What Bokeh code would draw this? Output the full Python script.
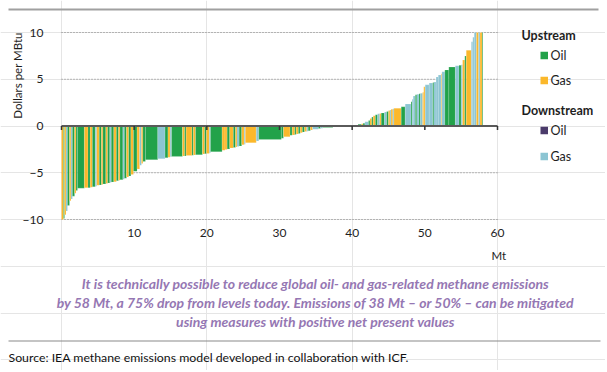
import math
from bokeh.plotting import figure
from bokeh.models import (ColumnDataSource, FixedTicker, Label, BoxAnnotation,
                          Range1d, LinearAxis)
from bokeh.embed import file_html
from bokeh.resources import INLINE

# ---- data: abatement measures (width = Mt abated, cost = $/MBtu, segment) ----
mt_widths = [
    0.28, 0.14, 0.20, 0.20, 0.28, 0.20, 0.20, 0.30, 0.20, 0.20,
    0.95, 0.50, 0.30, 0.30, 0.40, 0.20, 0.35, 0.30, 0.20, 0.40,
    0.25, 0.30, 0.20, 0.35, 0.35, 0.30, 0.20, 0.40, 0.20, 0.30,
    0.30, 0.30, 0.35, 0.50, 0.35, 0.25, 0.20, 0.35, 1.70, 1.00,
    0.40, 0.30, 0.20, 1.50, 0.30, 0.20, 0.80, 0.20, 0.30, 0.95,
    0.30, 0.25, 0.40, 0.15, 1.60, 0.40, 0.30, 0.35, 0.50, 0.30,
    0.20, 0.30, 0.35, 0.35, 0.15, 1.50, 0.35, 3.10, 0.30, 0.90,
    0.30, 0.35, 0.20, 0.30, 0.25, 0.30, 0.30, 0.30, 0.20, 0.30,
    0.30, 0.80, 0.30, 0.30, 1.40, 1.60, 1.85,
    0.50, 0.20, 0.25, 0.50, 0.20, 0.25, 0.20, 0.30, 0.30, 0.30,
    0.20, 0.45, 0.30, 0.25, 0.20, 0.15, 0.25, 0.15, 1.00, 0.55,
    0.80, 0.15, 0.15, 0.30, 0.20, 0.30, 0.20, 0.30, 0.15, 0.20,
    0.55, 0.50, 0.15, 0.30, 0.30, 0.40, 0.10, 0.40, 0.55, 0.90,
    0.50, 0.30, 0.20, 0.30, 0.20, 0.70, 0.20, 0.20, 0.30, 0.30,
    0.20, 0.30, 0.10,
]
costs = [
    -10.0, -9.9, -9.5, -9.1, -8.5, -8.0, -7.8, -7.5, -7.2, -6.9,
    -6.65, -6.6, -6.6, -6.55, -6.5, -6.45, -6.35, -6.3, -6.25, -6.2,
    -6.15, -6.1, -6.05, -6.0, -5.95, -5.85, -5.8, -5.75, -5.7, -5.6,
    -5.45, -5.35, -5.2, -4.85, -4.6, -4.2, -4.0, -3.8, -3.6, -3.5,
    -3.4, -3.35, -3.3, -3.25, -3.22, -3.2, -3.15, -3.12, -3.1, -3.08,
    -3.0, -2.97, -2.93, -2.9, -2.75, -2.6, -2.5, -2.45, -2.35, -2.3,
    -2.25, -2.2, -2.15, -2.0, -1.95, -1.8, -1.6, -1.45, -1.3, -1.15,
    -1.0, -0.95, -0.9, -0.85, -0.8, -0.72, -0.65, -0.6, -0.55, -0.5,
    -0.42, -0.34, -0.27, -0.24, -0.16, -0.08, 0.12,
    0.2, 0.25, 0.3, 0.45, 0.6, 0.8, 0.95, 1.1, 1.2, 1.3,
    1.35, 1.4, 1.5, 1.55, 1.65, 1.7, 1.8, 1.85, 1.9, 2.05,
    2.35, 2.6, 2.85, 3.2, 3.35, 3.4, 3.45, 3.5, 3.6, 4.2,
    4.4, 4.6, 4.65, 4.7, 5.25, 5.45, 5.6, 5.8, 6.0, 6.3,
    6.45, 6.5, 6.55, 7.05, 7.5, 8.1, 9.0, 9.5, 10.5, 11.0,
    12.0, 13.0, 14.0,
]
segments = [
    "UG", "UO", "UG", "DG", "UO", "UG", "DG", "UO", "UG", "UO",
    "UO", "UG", "UO", "UG", "UO", "DG", "UG", "UO", "UG", "UO",
    "UG", "UO", "DG", "UO", "UG", "UO", "UG", "UO", "DG", "UO",
    "UG", "UO", "UG", "UO", "UG", "DG", "UG", "UO", "UO", "DG",
    "UO", "UG", "DG", "UO", "UG", "UO", "UG", "UO", "UG", "UO",
    "UG", "UO", "UG", "DG", "UO", "UG", "UG", "UO", "UG", "UO",
    "UG", "DG", "UO", "UG", "DG", "UG", "DG", "UO", "UO", "UG",
    "UO", "UG", "UO", "UG", "UO", "UG", "UO", "UG", "DG", "UO",
    "UG", "DG", "UO", "DG", "UO", "UO", "UG",
    "UO", "UG", "UO", "DG", "UO", "UG", "UO", "UG", "UO", "DG",
    "UG", "UO", "DG", "UO", "UG", "DG", "UG", "DG", "UG", "UO",
    "DG", "UO", "DG", "DG", "UO", "DG", "UO", "DG", "UG", "UG",
    "DG", "DG", "UO", "DG", "DG", "DG", "UG", "DG", "UO", "UO",
    "DG", "UO", "DG", "UG", "UO", "UG", "DG", "DG", "DG", "UG",
    "DG", "UG", "UO",
]

x_ticks = [10, 20, 30, 40, 50, 60]
y_ticks = [-10, -5, 0, 5, 10]
legend_groups = ["Upstream", "Downstream"]
legend_items = ["Oil", "Gas"]

colors = {"UO": "#22a24a", "UG": "#fbb82b", "DO": "#4b3b6b", "DG": "#8cc5d3"}

# chart window: x 0..60 Mt, y -10..10 $/MBtu
X_MIN, X_MAX, Y_MIN, Y_MAX = 0, 60, -10, 10

# ---- page geometry (pixels) ----
W, H = 605, 370
PX_X0, PX_X1 = 61.0, 497.0       # pixel of x=0 and x=60
PX_Y1, PX_Y0 = 32.0, 219.0       # pixel of y=10 and y=-10
sx = (PX_X1 - PX_X0) / (X_MAX - X_MIN)
sy = (PX_Y0 - PX_Y1) / (Y_MAX - Y_MIN)


def X(px):
    return X_MIN + (px - PX_X0) / sx


def Y(py):
    return Y_MAX - (py - PX_Y1) / sy


lefts, rights = [], []
acc = 0.0
for w in mt_widths:
    lefts.append(acc)
    acc += w
    rights.append(acc)

src = ColumnDataSource(dict(
    left=lefts, right=rights,
    top=[max(min(c, Y_MAX), Y_MIN) for c in costs],
    bottom=[0] * len(costs),
    color=[colors[s] for s in segments],
))

FONT = "Lato"
TXT = "#1e1e1e"

p = figure(width=W, height=H, output_backend="svg", toolbar_location=None,
           x_range=Range1d(X(0), X(W)), y_range=Range1d(Y(H), Y(0)),
           x_axis_location=None, y_axis_location=None,
           min_border=0, min_border_left=0, min_border_right=0,
           min_border_top=0, min_border_bottom=0)
p.outline_line_color = None
p.background_fill_color = "white"
p.border_fill_color = "white"

# dotted gridlines across the chart window only
grid_vals = [t for t in y_ticks if t != 0]
p.segment(x0=[X_MIN] * len(grid_vals), x1=[X_MAX] * len(grid_vals),
          y0=grid_vals, y1=grid_vals, line_color="#808080",
          line_dash="1 2", line_width=1)

p.quad(left="left", right="right", top="top", bottom="bottom", source=src,
       fill_color="color", line_color="white", line_alpha=0.3, line_width=0.5)

# zero line with ticks
p.segment(x0=[X_MIN], x1=[X_MAX], y0=[0], y1=[0], line_color="#5a5a5a", line_width=2)
tick_x = [X_MIN] + x_ticks
tick_len = 4.0 / sy
p.segment(x0=tick_x, y0=[0] * len(tick_x), x1=tick_x, y1=[-tick_len] * len(tick_x),
          line_color="#333333", line_width=1.5)

# axes (labels only), fixed at chart window edges
xaxis = LinearAxis(fixed_location=Y_MIN, ticker=FixedTicker(ticks=x_ticks))
xaxis.axis_line_color = None
xaxis.major_tick_line_color = None
xaxis.minor_tick_line_color = None
xaxis.major_label_standoff = 3
xaxis.major_label_text_font = FONT
xaxis.major_label_text_font_size = "12px"
xaxis.major_label_text_color = TXT
p.add_layout(xaxis, "below")

yaxis = LinearAxis(fixed_location=X_MIN, ticker=FixedTicker(ticks=y_ticks))
yaxis.axis_line_color = None
yaxis.major_tick_line_color = None
yaxis.minor_tick_line_color = None
yaxis.major_label_standoff = 12
yaxis.major_label_text_font = FONT
yaxis.major_label_text_font_size = "12px"
yaxis.major_label_text_color = TXT
p.add_layout(yaxis, "left")

# axis titles
p.add_layout(Label(x=X(17), y=Y(75), text="Dollars per MBtu", angle=math.pi / 2,
                   text_align="center", text_baseline="middle",
                   text_font=FONT, text_font_size="11.5px", text_color=TXT))
p.add_layout(Label(x=X(491), y=Y(255), text="Mt",
                   text_align="left", text_baseline="middle",
                   text_font=FONT, text_font_size="11.5px", text_color=TXT))

# legend
leg_py = [[35, 55, 80], [110, 130, 156]]
leg_cols = [["UO", "UG"], ["DO", "DG"]]
for g, group in enumerate(legend_groups):
    gy = leg_py[g]
    p.add_layout(Label(x=X(521), y=Y(gy[0]), text=group,
                       text_align="left", text_baseline="middle",
                       text_font=FONT, text_font_style="bold",
                       text_font_size="12.5px", text_color=TXT))
    for i, item in enumerate(legend_items):
        py = gy[i + 1]
        p.add_layout(BoxAnnotation(left=X(540), right=X(547.5),
                                   bottom=Y(py + 3.8), top=Y(py - 3.8),
                                   fill_color=colors[leg_cols[g][i]], fill_alpha=1,
                                   line_color=None))
        p.add_layout(Label(x=X(550), y=Y(py), text=item,
                           text_align="left", text_baseline="middle",
                           text_font=FONT, text_font_size="12.5px", text_color=TXT))

# horizontal rules
p.add_layout(BoxAnnotation(left=X(8), right=X(598), bottom=Y(10), top=Y(8),
                           fill_color="#a0a0a0", fill_alpha=1, line_color=None))
p.add_layout(BoxAnnotation(left=X(8), right=X(600), bottom=Y(341), top=Y(340),
                           fill_color="#8a8a8a", fill_alpha=1, line_color=None))

caption = [
    "It is technically possible to reduce global oil- and gas-related methane emissions",
    "by 58 Mt, a 75% drop from levels today. Emissions of 38 Mt \u2013 or 50% \u2013 can be mitigated",
    "using measures with positive net present values",
]
for i, line in enumerate(caption):
    p.add_layout(Label(x=X(315), y=Y(283 + 19 * i), text=line,
                       text_align="center", text_baseline="middle",
                       text_font=FONT, text_font_style="bold italic",
                       text_font_size="14px", text_color="#9577b3"))

p.add_layout(Label(x=X(8), y=Y(357),
                   text="Source: IEA methane emissions model developed in collaboration with ICF.",
                   text_align="left", text_baseline="middle",
                   text_font=FONT, text_font_size="12.3px", text_color="#111111"))

open("out.html", "w").write(file_html(p, INLINE))
